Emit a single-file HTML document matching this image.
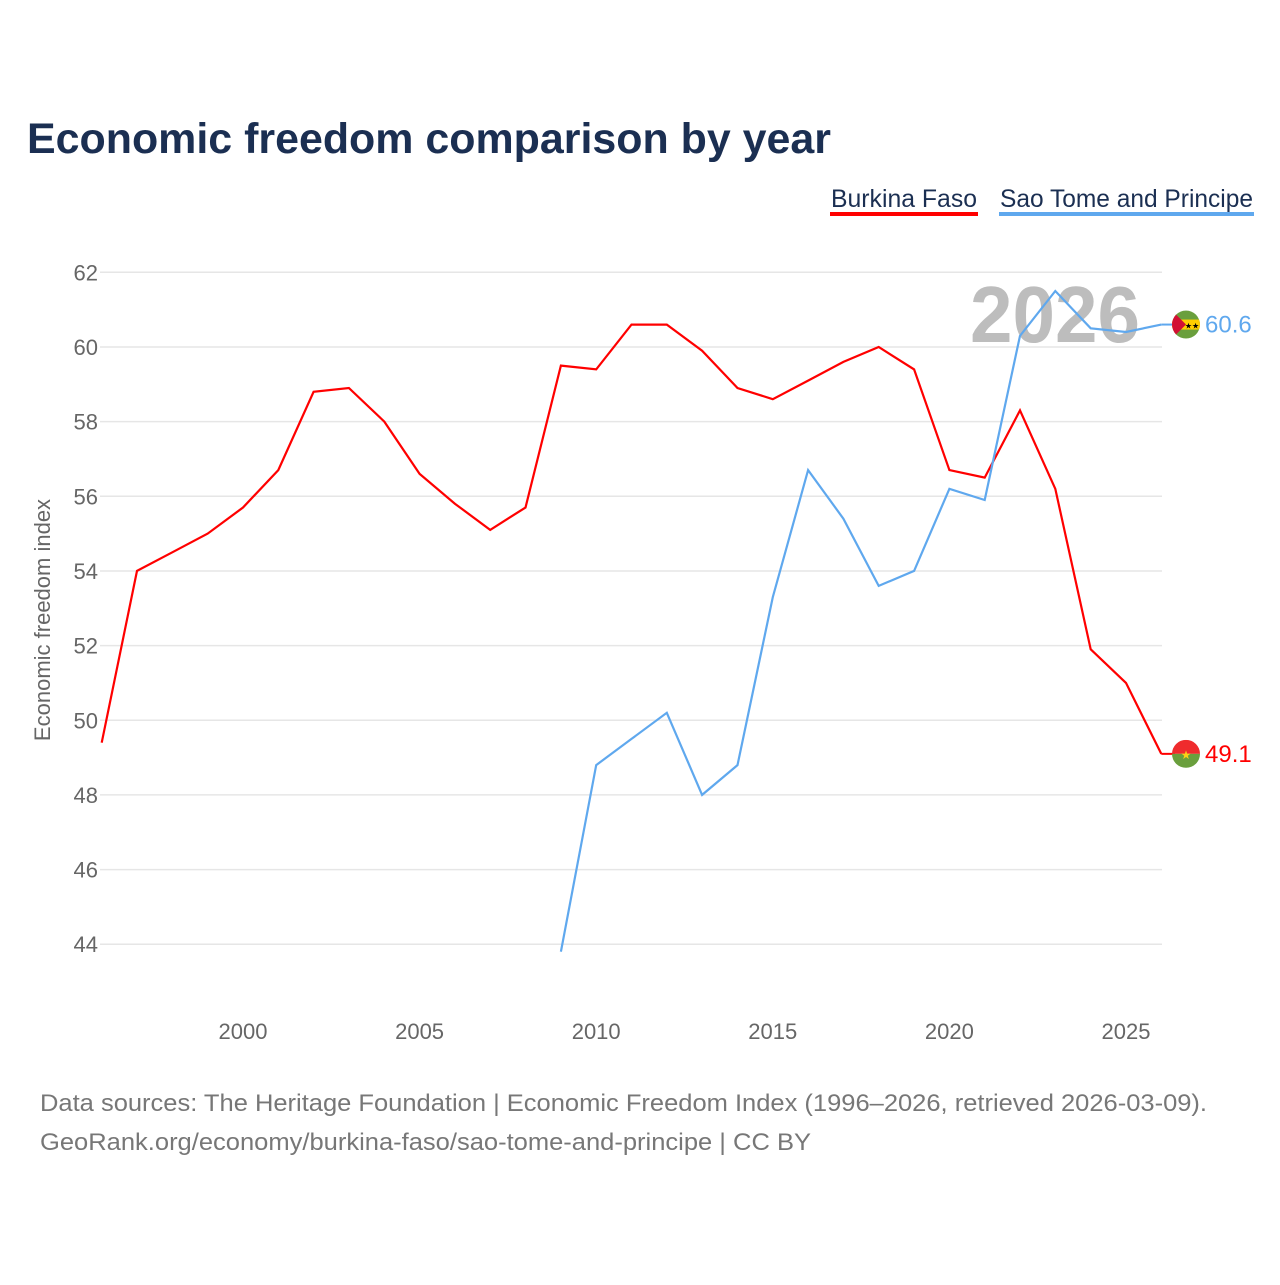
<!DOCTYPE html>
<html><head><meta charset="utf-8"><style>
body{margin:0;background:#fff;width:1280px;height:1280px;overflow:hidden;font-family:"Liberation Sans",sans-serif}
</style></head><body>
<svg id="chart" width="1280" height="1280">
<text x="27" y="153" font-size="43" font-weight="bold" fill="#1b2f52" textLength="804" lengthAdjust="spacingAndGlyphs">Economic freedom comparison by year</text>
<g>
<g><text x="831" y="207" font-size="25" fill="#1b2f52" textLength="146" lengthAdjust="spacingAndGlyphs">Burkina Faso</text><rect x="830" y="212" width="148" height="4" fill="#ff0000"/></g>
<g><text x="1000" y="207" font-size="25" fill="#1b2f52" textLength="253" lengthAdjust="spacingAndGlyphs">Sao Tome and Principe</text><rect x="999" y="212" width="255" height="4" fill="#5fa8ee"/></g>
</g>
<text x="970" y="342" font-size="80" font-weight="bold" fill="#bdbdbd" textLength="170" lengthAdjust="spacingAndGlyphs">2026</text>
<g id="grid"></g><g id="yt"></g><g id="xt"></g><g id="lines"></g><g id="ends"></g>
<text transform="translate(50,620) rotate(-90)" font-size="22" fill="#666" text-anchor="middle">Economic freedom index</text>
<text x="40" y="1111" font-size="24" fill="#777" textLength="1167" lengthAdjust="spacingAndGlyphs">Data sources: The Heritage Foundation | Economic Freedom Index (1996–2026, retrieved 2026-03-09).</text>
<text x="40" y="1150" font-size="24" fill="#777" textLength="771" lengthAdjust="spacingAndGlyphs">GeoRank.org/economy/burkina-faso/sao-tome-and-principe | CC BY</text>
</svg>
<script>
const years=[1996,1997,1998,1999,2000,2001,2002,2003,2004,2005,2006,2007,2008,2009,2010,2011,2012,2013,2014,2015,2016,2017,2018,2019,2020,2021,2022,2023,2024,2025,2026];
const burkina=[49.4,54.0,54.5,55.0,55.7,56.7,58.8,58.9,58.0,56.6,55.8,55.1,55.7,59.5,59.4,60.6,60.6,59.9,58.9,58.6,59.1,59.6,60.0,59.4,56.7,56.5,58.3,56.2,51.9,51.0,49.1];
const saoTome=[null,null,null,null,null,null,null,null,null,null,null,null,null,43.8,48.8,49.5,50.2,48.0,48.8,53.3,56.7,55.4,53.6,54.0,56.2,55.9,60.3,61.5,60.5,60.4,60.6];
const yTicks=[44,46,48,50,52,54,56,58,60,62];
const xTicks=[2000,2005,2010,2015,2020,2025];
const NS="http://www.w3.org/2000/svg";
const X=y=>101.7+(y-1996)*35.32;
const Y=v=>272.3+(62-v)*37.33;
function mk(t,a,p){const e=document.createElementNS(NS,t);for(const k in a)e.setAttribute(k,a[k]);p.appendChild(e);return e;}
const grid=document.getElementById('grid'),yt=document.getElementById('yt'),xt=document.getElementById('xt'),lines=document.getElementById('lines'),ends=document.getElementById('ends');
yTicks.forEach(v=>{
 const l=mk('line',{x1:100,x2:1162,y1:Y(v),y2:Y(v),stroke:'#e6e6e6','stroke-width':1.5},grid);
 
 
 const t=mk('text',{x:98,y:Y(v)+8,'font-size':22,fill:'#666','text-anchor':'end'},yt);t.textContent=v;
 
 
});
xTicks.forEach(v=>{
 const t=mk('text',{x:X(v),y:1039,'font-size':22,fill:'#666','text-anchor':'middle'},xt);t.textContent=v;
 
 
});
function series(vals,color,name){
 const pts=[];vals.forEach((v,i)=>{if(v!=null)pts.push(X(years[i]).toFixed(1)+','+Y(v).toFixed(1));});
 const p=mk('polyline',{points:pts.join(' '),fill:'none',stroke:color,'stroke-width':2.2,'stroke-linejoin':'miter'},lines);
 
 
 const last=vals[vals.length-1],yy=Y(last),xx=X(years[years.length-1]);
 mk('line',{x1:xx,x2:1175,y1:yy,y2:yy,stroke:color,'stroke-width':2},ends);
 const t=mk('text',{x:1205,y:yy+8,'font-size':24,fill:color},ends);t.textContent=last.toFixed(1);
 
 
 return yy;
}
const yb=series(burkina,'#ff0000','burkina-faso');
const ys=series(saoTome,'#5fa8ee','sao-tome');
function flag(cy,kind){
 const g=mk('g',{},ends);
 
 
 const id='clip'+kind;
 const cp=mk('clipPath',{id:id},g);mk('circle',{cx:1186,cy:cy,r:14},cp);
 const h=mk('g',{'clip-path':'url(#'+id+')'},g);
 if(kind==='burkina-faso'){
  mk('rect',{x:1172,y:cy-14,width:28,height:14,fill:'#ef2b2d'},h);
  mk('rect',{x:1172,y:cy,width:28,height:14,fill:'#6a9f3d'},h);
  const s=mk('text',{x:1186,y:cy+5,'font-size':12,fill:'#fcd116','text-anchor':'middle'},h);s.textContent='★';
 }else{
  mk('rect',{x:1172,y:cy-14,width:28,height:28,fill:'#6a9f3d'},h);
  mk('rect',{x:1172,y:cy-5,width:28,height:10,fill:'#ffce00'},h);
  mk('polygon',{points:(1172)+','+(cy-14)+' '+(1186)+','+cy+' '+(1172)+','+(cy+14),fill:'#d21034'},h);
  const s=mk('text',{x:1192,y:cy+4,'font-size':8,fill:'#000','text-anchor':'middle'},h);s.textContent='★★';
 }
}
flag(yb,'burkina-faso');flag(ys,'sao-tome');
</script>
</body></html>
